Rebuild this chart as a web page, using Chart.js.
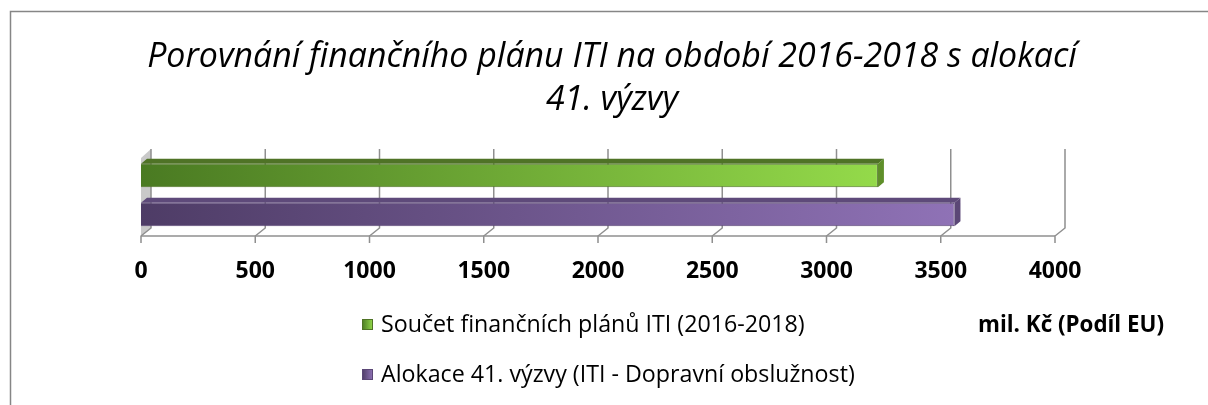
<!DOCTYPE html>
<html>
<head>
<meta charset="utf-8">
<script src="https://cdn.jsdelivr.net/npm/chart.js@4"></script>
<style>
  html, body { margin: 0; padding: 0; background: #fff; }
  #wrap { position: relative; width: 1208px; height: 405px; }
</style>
</head>
<body>
<div id="wrap"><canvas id="chart" width="1208" height="405"></canvas></div>
<script>
// chart data
var categories = [''];
var seriesNames = ['Součet finančních plánů ITI (2016-2018)', 'Alokace 41. výzvy (ITI - Dopravní obslužnost)'];
var planValues = [3225];
var allocationValues = [3560];
var xTicks = [0, 500, 1000, 1500, 2000, 2500, 3000, 3500, 4000];
var titleLines = ['Porovnání finančního plánu ITI na období 2016-2018 s alokací', '41. výzvy'];
var unitLabel = 'mil. Kč (Podíl EU)';

var greenLeft = '#4a7a22', greenRight = '#94da4a';
var purpleLeft = '#4e3c66', purpleRight = '#8f72b6';

// 3d depth of the plot walls / bars
var wallDx = 10, wallDy = -9;
var barDx = 6, barDy = -5;

function barGradient(c, from, to) {
    var chart = c.chart;
    var area = chart.chartArea;
    if (!area) return to;
    var end = chart.scales.x.getPixelForValue(c.raw);
    var g = chart.ctx.createLinearGradient(area.left, 0, end, 0);
    g.addColorStop(0, from);
    g.addColorStop(1, to);
    return g;
}

// pick a font size so the text gets the width it has in the original
function fitFont(ctx, text, prefix, width, family) {
    ctx.font = prefix + ' 30px ' + family;
    var w = ctx.measureText(text).width;
    return prefix + ' ' + (30 * width / w).toFixed(2) + 'px ' + family;
}

var decorations = {
    id: 'decorations',
    beforeDraw: function (chart) {
        var ctx = chart.ctx;
        ctx.save();
        ctx.fillStyle = '#fff';
        ctx.fillRect(0, 0, chart.width, chart.height);
        // outer frame
        ctx.strokeStyle = '#868686';
        ctx.lineWidth = 1.5;
        ctx.beginPath();
        ctx.moveTo(10.5, chart.height + 2);
        ctx.lineTo(10.5, 11.5);
        ctx.lineTo(chart.width + 2, 11.5);
        ctx.stroke();

        var x = chart.scales.x;
        var top = 149, back = 228, front = 236;
        // left wall
        var l = x.getPixelForValue(0);
        ctx.fillStyle = '#c9c9c9';
        ctx.beginPath();
        ctx.moveTo(l, top - wallDy);
        ctx.lineTo(l + wallDx, top);
        ctx.lineTo(l + wallDx, back);
        ctx.lineTo(l, front);
        ctx.closePath();
        ctx.fill();
        // grid lines
        ctx.strokeStyle = '#8f8f8f';
        ctx.lineWidth = 1.5;
        xTicks.forEach(function (t) {
            var px = x.getPixelForValue(t);
            ctx.beginPath();
            ctx.moveTo(px + wallDx, top);
            ctx.lineTo(px + wallDx, back);
            ctx.lineTo(px, front);
            ctx.lineTo(px, front + 7);
            ctx.stroke();
        });
        ctx.beginPath();
        ctx.moveTo(x.getPixelForValue(0), front);
        ctx.lineTo(x.getPixelForValue(4000), front);
        ctx.stroke();
        ctx.restore();
    },
    afterDatasetsDraw: function (chart) {
        var ctx = chart.ctx;
        var faces = [['#4f7326', '#5f8f2a'], ['#5e4a7a', '#5b4776']];
        ctx.save();
        chart.data.datasets.forEach(function (ds, i) {
            chart.getDatasetMeta(i).data.forEach(function (bar) {
                var t = bar.y - bar.height / 2, b = bar.y + bar.height / 2;
                // top face
                ctx.fillStyle = faces[i][0];
                ctx.beginPath();
                ctx.moveTo(bar.base, t);
                ctx.lineTo(bar.base + barDx, t + barDy);
                ctx.lineTo(bar.x + barDx, t + barDy);
                ctx.lineTo(bar.x, t);
                ctx.closePath();
                ctx.fill();
                // side face
                ctx.fillStyle = faces[i][1];
                ctx.beginPath();
                ctx.moveTo(bar.x, t);
                ctx.lineTo(bar.x + barDx, t + barDy);
                ctx.lineTo(bar.x + barDx, b + barDy);
                ctx.lineTo(bar.x, b);
                ctx.closePath();
                ctx.fill();
            });
        });
        ctx.restore();
    },
    afterDraw: function (chart) {
        var ctx = chart.ctx;
        ctx.save();
        ctx.fillStyle = '#000';
        ctx.textBaseline = 'middle';
        // title
        ctx.textAlign = 'center';
        ctx.font = fitFont(ctx, titleLines[0], 'italic', 930, '"Open Sans"');
        ctx.fillText(titleLines[0], 612, 57);
        ctx.fillText(titleLines[1], 612, 100);
        // legend
        ctx.textAlign = 'left';
        var legendFont = fitFont(ctx, seriesNames[0], 'normal', 424, '"Open Sans"');
        var cols = [[greenLeft, greenRight, '#4f7326'], [purpleLeft, purpleRight, '#5b4776']];
        seriesNames.forEach(function (name, i) {
            var y = 325 + i * 50;
            var g = ctx.createLinearGradient(362, 0, 373, 0);
            g.addColorStop(0, cols[i][0]);
            g.addColorStop(1, cols[i][1]);
            ctx.fillStyle = g;
            ctx.fillRect(362, y - 6, 11, 11);
            ctx.strokeStyle = cols[i][2];
            ctx.lineWidth = 1;
            ctx.strokeRect(362.5, y - 5.5, 10, 10);
            ctx.fillStyle = '#000';
            ctx.font = legendFont;
            ctx.fillText(name, 381, y);
        });
        // unit label
        ctx.font = fitFont(ctx, unitLabel, 'bold', 186, '"Open Sans"');
        ctx.fillText(unitLabel, 978, 326);
        ctx.restore();
    }
};

new Chart(document.getElementById('chart'), {
    type: 'bar',
    data: {
        labels: categories,
        datasets: [{
            label: seriesNames[0],
            data: planValues,
            backgroundColor: function (c) { return barGradient(c, greenLeft, greenRight); },
            borderColor: '#4f7326',
            borderWidth: 1,
            categoryPercentage: 0.87,
            barPercentage: 0.6
        }, {
            label: seriesNames[1],
            data: allocationValues,
            backgroundColor: function (c) { return barGradient(c, purpleLeft, purpleRight); },
            borderColor: '#5b4776',
            borderWidth: 1,
            categoryPercentage: 0.87,
            barPercentage: 0.6
        }]
    },
    options: {
        indexAxis: 'y',
        responsive: false,
        animation: false,
        layout: {padding: {left: 141, right: 153, top: 150, bottom: 0}},
        plugins: {legend: {display: false}, title: {display: false}, tooltip: {enabled: false}},
        scales: {
            x: {
                min: 0,
                max: 4000,
                afterFit: function (s) { s.height = 405 - 240; },
                afterBuildTicks: function (s) { s.ticks = xTicks.map(function (v) { return {value: v}; }); },
                grid: {display: false, drawTicks: false},
                border: {display: false},
                ticks: {
                    autoSkip: false,
                    maxRotation: 0,
                    padding: 18,
                    color: '#000',
                    callback: function (v) { return String(v); },
                    font: {family: '"Open Sans"', weight: 'bold', size: 23}
                }
            },
            y: {display: false}
        }
    },
    plugins: [decorations]
});
</script>
</body>
</html>
